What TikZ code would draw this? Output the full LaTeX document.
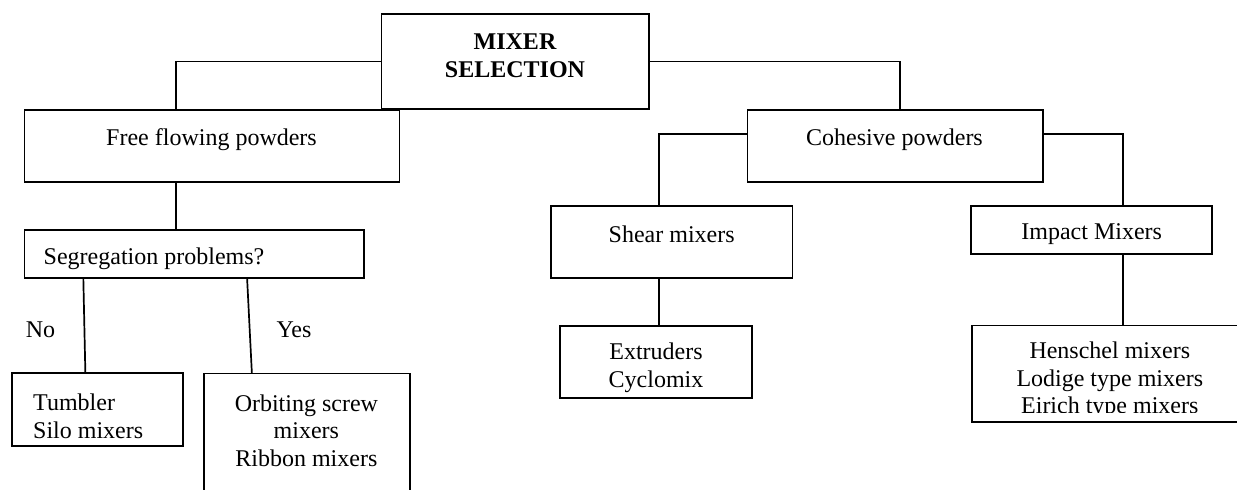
\documentclass[tikz,border=0pt]{standalone}
\usepackage{fontspec}
\setmainfont{Liberation Serif}
\usetikzlibrary{fit}
\begin{document}
\begin{tikzpicture}[x=0.5pt,y=-0.5pt,
  box/.style={draw,line width=0.85pt,inner sep=0pt},
  openbox/.style={inner sep=0pt},
  conn/.style={line width=0.85pt},
  lbl/.style={inner sep=0pt,font=\fontsize{12}{13.8}\selectfont,align=center},
  lbll/.style={inner sep=0pt,font=\fontsize{12}{13.8}\selectfont,align=left}]
\useasboundingbox (0,0) rectangle (1237,489);
% boxes
\node[box,fit={(381.6,14) (648.8,109)}] (ms) {};
\node[box,fit={(24.5,109.7) (399.4,181.7)}] (ff) {};
\node[box,fit={(747.5,109.7) (1042.8,181.7)}] (co) {};
\node[box,fit={(24.5,230) (363.8,278.3)}] (sg) {};
\node[box,fit={(551,205.7) (792.5,278.3)}] (sh) {};
\node[box,fit={(971,205.7) (1212.3,254)}] (im) {};
\node[box,fit={(11.9,373.3) (182.7,446)}] (tu) {};
\node[openbox,fit={(204.4,374) (409.3,492)}] (ob) {};
\draw[conn] (ob.south west) -- (ob.north west) -- (ob.north east) -- (ob.south east);
\node[box,fit={(560.2,326) (752.3,397.7)}] (ex) {};
\node[openbox,fit={(972.7,326) (1240,421.7)}] (hs) {};
\draw[conn] (hs.north east) -- (hs.north west) -- (hs.south west) -- (hs.south east);
% texts
\node[lbl,font=\fontsize{12}{14}\selectfont\bfseries] (mst) at (515,56) {MIXER\\SELECTION};
\node[lbl] (fft) at (211.5,139.5) {Free flowing powders};
\node[lbl] (cot) at (894.5,139.5) {Cohesive powders};
\node[lbl] (sgt) at (154,259) {Segregation problems?};
\node[lbl] (sht) at (671.7,234) {Shear mixers};
\node[lbl] (imt) at (1091.7,234) {Impact Mixers};
\node[lbl] (no) at (40.5,329.5) {No};
\node[lbl] (yes) at (294,329.5) {Yes};
\node[lbll,anchor=west] (tut) at (32.8,416) {Tumbler\\Silo mixers};
\node[lbl] (obt) at (306.4,430.5) {Orbiting screw\\mixers\\Ribbon mixers};
\node[lbl] (ext) at (656,367.5) {Extruders\\Cyclomix};
\begin{scope}
\clip (975,328) rectangle (1237,412.5);
\node[lbl] (hst) at (1109.8,380.5) {Henschel mixers\\Lodige type mixers\\Eirich type mixers};
\end{scope}
% connectors
\coordinate (c1) at (176,61.5);
\coordinate (c2) at (899.8,61.5);
\coordinate (c3) at (658.9,134.3);
\coordinate (c4) at (1122.8,134.3);
\draw[conn] (ms.west) -- (c1) -- (c1 |- ff.north);
\draw[conn] (ms.east) -- (c2) -- (c2 |- co.north);
\draw[conn] (c1 |- ff.south) -- (c1 |- sg.north);
\draw[conn] (c3 -| co.west) -- (c3) -- (c3 |- sh.north);
\draw[conn] (c4 -| co.east) -- (c4) -- (c4 |- im.north);
\draw[conn] (c3 |- sh.south) -- (c3 |- ex.north);
\draw[conn] (c4 |- im.south) -- (c4 |- hs.north);
\path (sg.south west) ++(59.7,0) coordinate (n1);
\path (tu.north west) ++(74.3,0) coordinate (n2);
\path (sg.south west) ++(223.5,0) coordinate (y1);
\path (ob.north west) ++(47.9,0) coordinate (y2);
\draw[conn] (n1) -- (n2);
\draw[conn] (y1) -- (y2);
\end{tikzpicture}
\end{document}
